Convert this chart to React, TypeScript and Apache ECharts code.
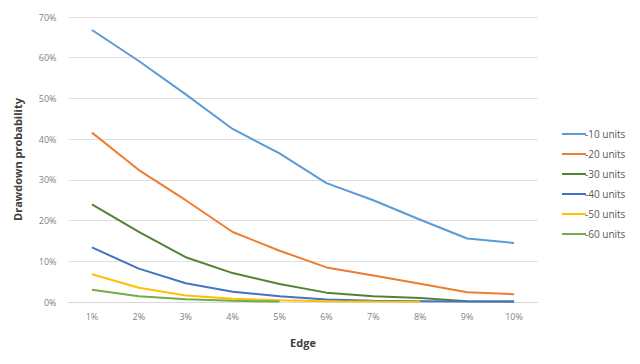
import React, { useEffect, useRef } from "react";
import * as echarts from "echarts";

const categories = ["1%", "2%", "3%", "4%", "5%", "6%", "7%", "8%", "9%", "10%"];
const seriesNames = ["-10 units", "-20 units", "-30 units", "-40 units", "-50 units", "-60 units"];
const units10 = [66.8, 59.2, 51, 42.5, 36.5, 29.2, 25, 20.2, 15.6, 14.5];
const units20 = [41.6, 32.4, 25, 17.2, 12.6, 8.5, 6.5, 4.5, 2.4, 1.9];
const units30 = [24, 17.2, 11, 7.1, 4.4, 2.3, 1.4, 1.0, 0.2, 0.1];
const units40 = [13.4, 8.2, 4.6, 2.5, 1.4, 0.6, 0.3, 0.2, 0.1, 0.1];
const units50 = [6.8, 3.5, 1.6, 0.8, 0.4, 0.2, 0.1, 0.05];
const units60 = [3.0, 1.4, 0.7, 0.3, 0.1];
const colors = ["#5B9BD5", "#ED7D31", "#548235", "#4472C4", "#FFC000", "#70AD47"];
const yTicks = [0, 10, 20, 30, 40, 50, 60, 70];

export default function App() {
  const ref = useRef<HTMLDivElement>(null);
  useEffect(() => {
    document.body.style.margin = "0";
    const chart = echarts.init(ref.current!, null, { renderer: "svg" });
    const data = [units10, units20, units30, units40, units50, units60];
    const font = "'Open Sans', 'Liberation Sans', sans-serif";
    chart.setOption({
      animation: false,
      backgroundColor: "#ffffff",
      textStyle: { fontFamily: font },
      grid: { left: 68.5, right: 102.5, top: 17, bottom: 62, containLabel: false },
      legend: {
        orient: "vertical",
        left: 557,
        top: 123,
        icon: "rect",
        itemWidth: 24,
        itemHeight: 2,
        itemGap: 8,
        textStyle: { fontSize: 10, color: "#595959", lineHeight: 12, padding: [0, 0, 0, -6] },
        data: seriesNames,
      },
      xAxis: {
        type: "category",
        data: categories,
        boundaryGap: true,
        name: "Edge",
        nameLocation: "middle",
        nameGap: 35,
        nameTextStyle: { fontSize: 11, fontWeight: "bold", color: "#404040" },
        axisLine: { show: true, lineStyle: { color: "#d9d9d9" } },
        axisTick: { show: false },
        axisLabel: { fontSize: 9, color: "#7f7f7f", margin: 10 },
      },
      yAxis: {
        type: "value",
        min: 0,
        max: 70,
        interval: 10,
        name: "Drawdown probability",
        nameLocation: "middle",
        nameGap: 46,
        nameRotate: 90,
        nameTextStyle: { fontSize: 11, fontWeight: "bold", color: "#404040" },
        axisLine: { show: false },
        axisTick: { show: false },
        axisLabel: {
          fontSize: 9,
          color: "#7f7f7f",
          margin: 12,
          formatter: (v: number) => (yTicks.includes(v) ? v + "%" : ""),
        },
        splitLine: { lineStyle: { color: "#e0e0e0", width: 1 } },
      },
      series: seriesNames.map((n, i) => ({
        name: n,
        type: "line",
        data: data[i],
        symbol: "none",
        showSymbol: false,
        smooth: false,
        lineStyle: { color: colors[i], width: 2 },
        itemStyle: { color: colors[i] },
        z: 2 + i,
      })),
    });
    return () => chart.dispose();
  }, []);
  return <div ref={ref} style={{ width: 640, height: 364 }} />;
}
